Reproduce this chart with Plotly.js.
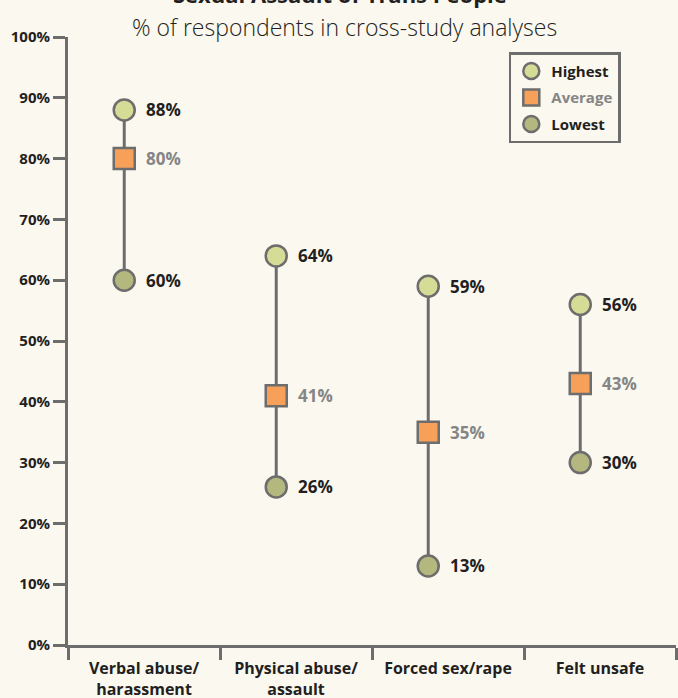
<!DOCTYPE html>
<html>
<head>
<meta charset="utf-8">
<script src="https://cdn.plot.ly/plotly-3.0.1.min.js"></script>
<style>
html,body{margin:0;padding:0;background:#fbf8f0;}
#chart{width:678px;height:698px;}
</style>
</head>
<body>
<div id="chart"></div>
<script>
// ---- data ----
var categories = ["Verbal abuse/<br>harassment", "Physical abuse/<br>assault", "Forced sex/rape", "Felt unsafe"];
var highest = [88, 64, 59, 56];
var average = [80, 41, 35, 43];
var lowest  = [60, 26, 13, 30];
var yTickVals = [0, 10, 20, 30, 40, 50, 60, 70, 80, 90, 100];
var yTickText = ["0%", "10%", "20%", "30%", "40%", "50%", "60%", "70%", "80%", "90%", "100%"];

// ---- styling ----
var FONT = "Open Sans, sans-serif";
var GRAY = "#6d6d6d";
var DARK = "#231f20";
var MIDTEXT = "#858585";
var BG = "#fbf8f0";
var OFFSET = 0.37; // marker position inside each category band

var xs = categories.map(function(_, i){ return i + OFFSET; });
var centers = categories.map(function(_, i){ return i + 0.5; });
var bounds = [];
for (var b = 0; b <= categories.length; b++) bounds.push(b);

// connecting lines
var lx = [], ly = [];
categories.forEach(function(_, i){
  lx.push(xs[i], xs[i], null);
  ly.push(lowest[i], highest[i], null);
});

var traces = [
  {x: lx, y: ly, mode: "lines", line: {color: GRAY, width: 3}, showlegend: false, hoverinfo: "skip"},
  {x: xs, y: highest, mode: "markers", name: "Highest", legendgroup: "h",
   marker: {symbol: "circle", size: 21, color: "#d5dc95", line: {color: GRAY, width: 2.5}}},
  {x: xs, y: average, mode: "markers", name: '<span style="color:' + MIDTEXT + '">Average</span>', legendgroup: "a",
   marker: {symbol: "square", size: 21, color: "#f7a05a", line: {color: GRAY, width: 2.5}}},
  {x: xs, y: lowest, mode: "markers", name: "Lowest", legendgroup: "l",
   marker: {symbol: "circle", size: 21, color: "#b4b87f", line: {color: GRAY, width: 2.5}}}
];

var annotations = [];
function addLabels(vals, color){
  vals.forEach(function(v, i){
    annotations.push({x: xs[i], y: v, xref: "x", yref: "y", text: "<b>" + v + "%</b>",
      showarrow: false, xanchor: "left", yanchor: "middle", xshift: 20,
      font: {family: FONT, size: 17, color: color}});
  });
}
addLabels(highest, DARK);
addLabels(average, MIDTEXT);
addLabels(lowest, DARK);

annotations.push({xref: "paper", yref: "paper", x: 0.447, y: 1.071, text: "<b>Sexual Assault of Trans People</b>",
  showarrow: false, xanchor: "center", yanchor: "middle", font: {family: FONT, size: 22, color: DARK}});
annotations.push({xref: "paper", yref: "paper", x: 0.455, y: 1.017, text: "% of respondents in cross-study analyses",
  showarrow: false, xanchor: "center", yanchor: "middle", font: {family: FONT, size: 23, color: DARK, weight: 300}});

var layout = {
  width: 678, height: 698,
  paper_bgcolor: BG, plot_bgcolor: BG,
  margin: {l: 68, r: 2, t: 37, b: 53},
  font: {family: FONT, color: DARK},
  showlegend: true,
  legend: {x: 0.725, y: 0.975, xanchor: "left", yanchor: "top",
    bordercolor: GRAY, borderwidth: 2.5, bgcolor: BG, tracegroupgap: 4,
    font: {family: FONT, size: 15, color: DARK, weight: "bold"}},
  xaxis: {range: [0, categories.length], tickmode: "array", tickvals: centers, ticktext: categories,
    ticks: "outside", ticklen: 7, tickcolor: "rgba(0,0,0,0)",
    tickfont: {family: FONT, size: 16, color: DARK, weight: "bold"},
    showline: true, linecolor: GRAY, linewidth: 3, showgrid: false, zeroline: false, fixedrange: true,
    minor: {tickmode: "array", tickvals: bounds, ticks: "outside", ticklen: 12, tickwidth: 3, tickcolor: GRAY, showgrid: false}},
  yaxis: {range: [0, 100], tickmode: "array", tickvals: yTickVals, ticktext: yTickText,
    ticks: "outside", ticklen: 12, tickwidth: 3, tickcolor: GRAY,
    tickfont: {family: FONT, size: 15, color: DARK, weight: "bold"},
    showline: true, linecolor: GRAY, linewidth: 3, showgrid: false, zeroline: false, fixedrange: true},
  annotations: annotations
};

Plotly.newPlot("chart", traces, layout, {displayModeBar: false, staticPlot: true});
</script>
</body>
</html>
